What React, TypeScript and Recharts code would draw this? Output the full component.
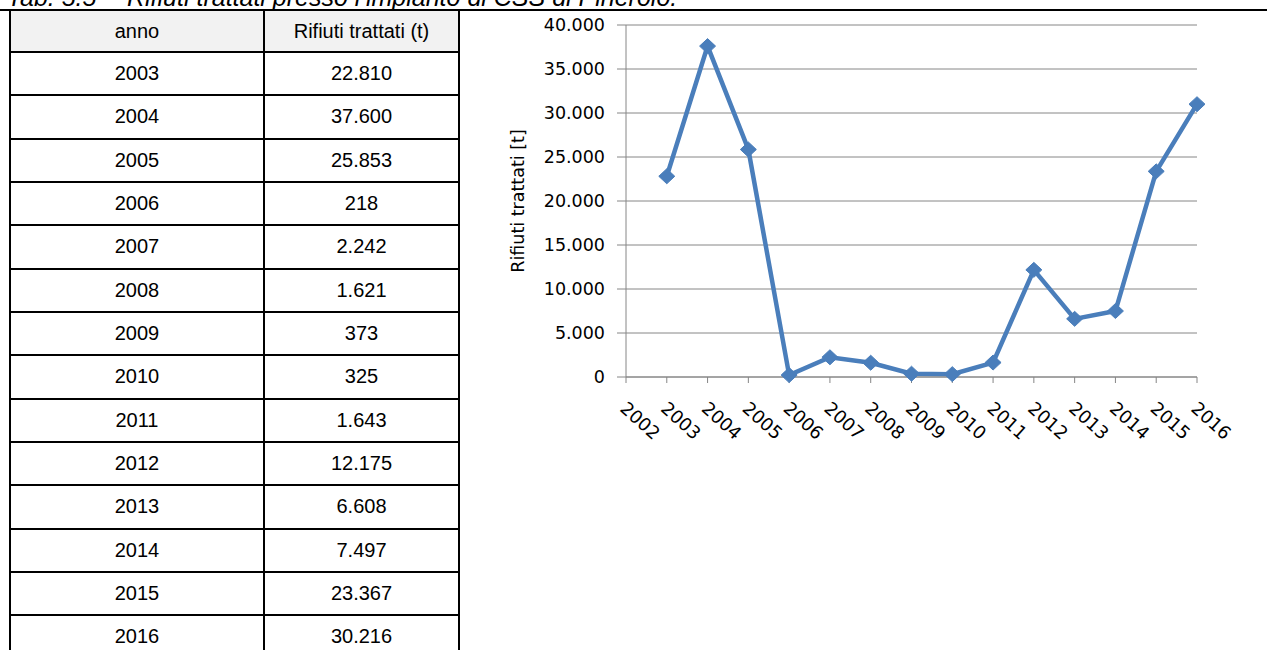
import { LineChart, Line, XAxis, YAxis, CartesianGrid } from "recharts";

// dati della tabella (t)
const anniTabella = [2003, 2004, 2005, 2006, 2007, 2008, 2009, 2010, 2011, 2012, 2013, 2014, 2015, 2016];
const trattatiTabella = [22810, 37600, 25853, 218, 2242, 1621, 373, 325, 1643, 12175, 6608, 7497, 23367, 30216];

// serie del grafico (2002 senza dato)
const anniGrafico = ["2002", "2003", "2004", "2005", "2006", "2007", "2008", "2009", "2010", "2011", "2012", "2013", "2014", "2015", "2016"];
const trattatiGrafico = [null, 22810, 37600, 25853, 218, 2242, 1621, 373, 325, 1643, 12175, 6608, 7497, 23367, 31000];
const yTicks = [0, 5000, 10000, 15000, 20000, 25000, 30000, 35000, 40000];

const titolo = "Tab. 5.5 –";
const titolo2 = "Rifiuti trattati presso l’impianto di CSS di Pinerolo.";
const intestazioni = ["anno", "Rifiuti trattati (t)"];

const BLUE = "#4a7ebb";
const GRID = "#868686";
const CHART_FONT = "'DejaVu Sans', sans-serif";
const TABLE_FONT = "'Liberation Sans', Arial, sans-serif";

const fmt = (v: number) => String(v).replace(/\B(?=(\d{3})+(?!\d))/g, ".");

const data = anniGrafico.map((anno, i) => ({ anno, valore: trattatiGrafico[i] }));

function Diamond(props: any) {
  const { cx, cy, value } = props;
  if (value == null || cx == null || cy == null) return null;
  return (
    <path
      d={`M${cx},${cy - 7.5} L${cx + 8},${cy} L${cx},${cy + 7.5} L${cx - 8},${cy} Z`}
      fill={BLUE}
      stroke={BLUE}
      strokeWidth={1}
    />
  );
}

function XTick(props: any) {
  const { x, y, payload } = props;
  const tx = x - 7;
  const ty = y + 25;
  return (
    <text
      x={tx}
      y={ty}
      transform={`rotate(42, ${tx}, ${ty})`}
      textAnchor="start"
      fontSize={18}
      fontFamily={CHART_FONT}
      fill="#000"
    >
      {payload.value}
    </text>
  );
}

function YLabel(props: any) {
  const vb = props.viewBox || {};
  const cx = vb.x + 12;
  const cy = vb.y + vb.height / 2;
  return (
    <text
      x={cx}
      y={cy}
      transform={`rotate(-90, ${cx}, ${cy})`}
      textAnchor="middle"
      dominantBaseline="central"
      fontSize={17.5}
      fontFamily={CHART_FONT}
      fill="#000"
    >
      Rifiuti trattati [t]
    </text>
  );
}

const ROW_TOP = 51;
const ROW_H = 43.33;

function Tabella() {
  const righe = [
    { a: intestazioni[0], b: intestazioni[1], head: true },
    ...anniTabella.map((a, i) => ({ a: String(a), b: fmt(trattatiTabella[i]), head: false })),
  ];
  return (
    <>
      {righe.map((r, i) => {
        const top = i === 0 ? 9 : ROW_TOP + (i - 1) * ROW_H;
        const bottom = ROW_TOP + i * ROW_H;
        return (
          <div
            key={i}
            style={{
              position: "absolute",
              left: 9,
              top,
              width: 451,
              height: bottom - top + 2,
              border: "2px solid #000",
              boxSizing: "border-box",
              background: r.head ? "#f2f2f2" : "#fff",
              display: "flex",
              fontFamily: TABLE_FONT,
              fontSize: 20,
              color: "#000",
            }}
          >
            <div
              style={{
                width: 252,
                borderRight: "2px solid #000",
                display: "flex",
                alignItems: "center",
                justifyContent: "center",
              }}
            >
              {r.a}
            </div>
            <div style={{ flex: 1, display: "flex", alignItems: "center", justifyContent: "center" }}>{r.b}</div>
          </div>
        );
      })}
    </>
  );
}

export default function App() {
  return (
    <div
      style={{
        position: "absolute",
        left: 0,
        top: 0,
        width: 1267,
        height: 650,
        overflow: "hidden",
        background: "#fff",
      }}
    >
      <svg style={{ position: "absolute", left: 0, top: 0 }} width={1267} height={20}>
        <text x={7} y={6} fontSize={25} fontStyle="italic" fontFamily={TABLE_FONT} fill="#000">
          {titolo}
        </text>
        <text x={127} y={6} fontSize={25} fontStyle="italic" fontFamily={TABLE_FONT} fill="#000">
          {titolo2}
        </text>
      </svg>
      <div style={{ position: "absolute", left: 0, top: 9, width: 1267, height: 2, background: "#000" }} />
      <Tabella />
      <div style={{ position: "absolute", left: 0, top: 0 }}>
        <LineChart
          width={1267}
          height={650}
          data={data}
          margin={{ top: 25, right: 70, bottom: 193, left: 506 }}
        >
          <CartesianGrid horizontal vertical={false} stroke={GRID} strokeWidth={1} />
          <XAxis
            dataKey="anno"
            type="category"
            interval={0}
            height={80}
            tickSize={6}
            axisLine={{ stroke: GRID }}
            tickLine={{ stroke: GRID }}
            tick={<XTick />}
          />
          <YAxis
            domain={[0, 40000]}
            ticks={yTicks}
            width={120}
            tickSize={9}
            tickMargin={12}
            tickFormatter={fmt}
            axisLine={{ stroke: GRID }}
            tickLine={{ stroke: GRID }}
            tick={{ fontSize: 17.5, fontFamily: CHART_FONT, fill: "#000" }}
            label={<YLabel />}
          />
          <Line
            type="linear"
            dataKey="valore"
            stroke={BLUE}
            strokeWidth={4.5}
            dot={<Diamond />}
            activeDot={false}
            isAnimationActive={false}
          />
        </LineChart>
      </div>
    </div>
  );
}
